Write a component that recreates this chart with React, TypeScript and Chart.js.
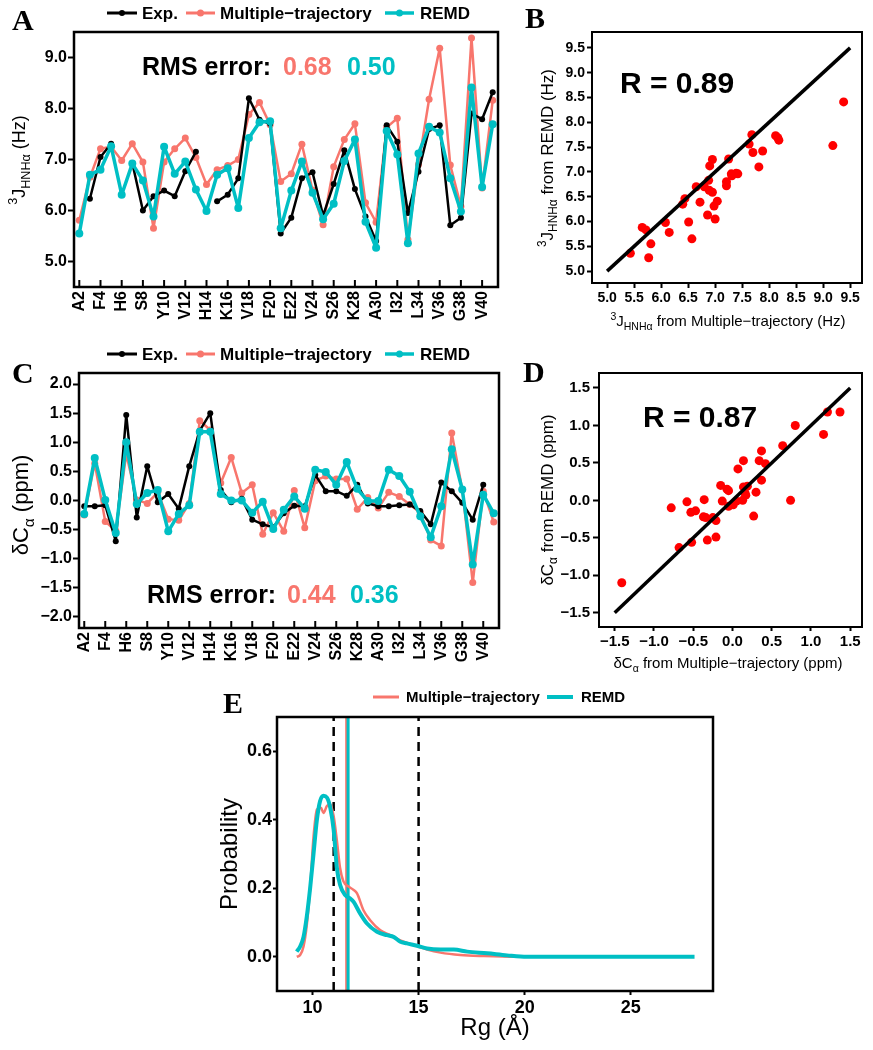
import React, { useEffect, useRef } from "react";
import { Chart, registerables } from "chart.js";

Chart.register(...registerables);

const PAGE_W = 873;
const PAGE_H = 1050;
const SANS = '"Liberation Sans", Arial, Helvetica, sans-serif';
const SERIF = '"Liberation Serif", "Times New Roman", serif';
const RED = "#F8766D";
const CYAN = "#00BFC4";
const BLACK = "#000000";
const SCATTER_RED = "#FF0000";

// ---------------- data ----------------
const residues = [2, 3, 4, 5, 6, 7, 8, 9, 10, 11, 12, 13, 14, 15, 16, 17, 18, 19, 20, 21, 22, 23, 24, 25, 26, 27, 28, 29, 30, 31, 32, 33, 34, 35, 36, 37, 38, 39, 40, 41];
const tickResidues = [2, 4, 6, 8, 10, 12, 14, 16, 18, 20, 22, 24, 26, 28, 30, 32, 34, 36, 38, 40];
const tickResidueLabels = ["A2", "F4", "H6", "S8", "Y10", "V12", "H14", "K16", "V18", "F20", "E22", "V24", "S26", "K28", "A30", "I32", "L34", "V36", "G38", "V40"];

// Panel A: 3J(HN-Ha) couplings (Hz)
const jExp = [null, 6.23, 7.05, 7.31, null, 6.93, 6.0, 6.28, 6.39, 6.28, 6.77, 7.15, null, 6.18, 6.31, 6.63, 8.2, 7.78, 7.7, 5.55, 5.86, 6.63, 6.75, 5.9, 6.52, 7.18, 6.42, 5.88, 5.4, 7.67, 7.35, 5.95, 6.76, 7.6, 7.67, 5.71, 5.86, 7.9, 7.79, 8.32];
const jMulti = [5.81, 6.65, 7.21, 7.25, 6.98, 7.31, 6.95, 5.65, 6.95, 7.21, 7.42, 7.04, 6.51, 6.8, 6.88, 7.0, 7.88, 8.12, 7.68, 6.57, 6.72, 7.3, 6.4, 5.72, 6.86, 7.39, 7.7, 6.15, 5.77, 7.63, 7.81, 5.43, 6.9, 8.18, 9.18, 6.89, 6.08, 9.38, 6.44, 8.16];
const jRemd = [5.55, 6.7, 6.8, 7.26, 6.31, 6.92, 6.59, 5.88, 7.25, 6.72, 6.96, 6.41, 5.99, 6.7, 6.83, 6.05, 7.42, 7.73, 7.75, 5.65, 6.39, 6.96, 6.35, 5.83, 6.13, 6.97, 7.39, 5.78, 5.27, 7.56, 7.1, 5.36, 7.12, 7.64, 7.53, 6.63, 5.98, 8.41, 6.46, 7.69];
const jTicks = [5.0, 6.0, 7.0, 8.0, 9.0];
const jScatterTicks = [5.0, 5.5, 6.0, 6.5, 7.0, 7.5, 8.0, 8.5, 9.0, 9.5];
const jFitX = [5.0, 9.5];
const jFitY = [5.0, 9.5];

// Panel C: secondary C-alpha shifts (ppm)
const cExp = [-0.1, -0.1, -0.08, -0.7, 1.47, -0.29, 0.59, -0.03, 0.11, -0.14, 0.59, 1.2, 1.5, 0.18, -0.03, 0.03, -0.33, -0.41, -0.46, -0.22, -0.09, -0.1, 0.44, 0.16, 0.16, 0.08, 0.27, -0.05, -0.1, -0.1, -0.08, -0.07, -0.18, -0.41, 0.31, 0.16, -0.04, -0.33, 0.27, null];
const cMulti = [-0.25, 0.64, -0.36, -0.52, 0.8, 0.01, -0.05, 0.14, -0.32, -0.34, -0.05, 1.37, 1.21, 0.3, 0.74, 0.13, 0.27, -0.58, -0.21, -0.53, 0.17, -0.47, 0.34, 0.42, 0.37, 0.37, -0.15, 0.05, -0.13, 0.14, 0.07, -0.07, -0.21, -0.68, -0.78, 1.16, 0.19, -1.41, 0.16, -0.37];
const cRemd = [-0.23, 0.73, 0.01, -0.56, 1.0, -0.06, 0.13, 0.18, -0.53, -0.23, -0.08, 1.18, 1.18, 0.11, 0.0, 0.0, -0.21, -0.02, -0.49, -0.16, 0.07, -0.14, 0.53, 0.49, 0.27, 0.66, 0.2, -0.01, -0.01, 0.53, 0.42, 0.15, -0.27, -0.63, -0.1, 0.88, 0.19, -1.1, 0.1, -0.22];
const cTicks = [-2.0, -1.5, -1.0, -0.5, 0.0, 0.5, 1.0, 1.5, 2.0];
const cScatterTicks = [-1.5, -1.0, -0.5, 0.0, 0.5, 1.0, 1.5];
const cFitX = [-1.5, 1.5];
const cFitY = [-1.5, 1.5];

// Panel E: Rg distributions
const rgMultiX = [9.26, 9.42, 9.58, 9.73, 9.89, 10.05, 10.21, 10.4, 10.52, 10.68, 10.84, 11.0, 11.15, 11.3, 11.46, 11.7, 11.94, 12.1, 12.41, 12.73, 13.2, 13.67, 14.14, 14.77, 15.4, 16.03, 16.97, 18.07, 19.6, 21.0];
const rgMultiP = [0.0, 0.005, 0.03, 0.09, 0.2, 0.35, 0.43, 0.435, 0.42, 0.44, 0.445, 0.41, 0.34, 0.26, 0.22, 0.205, 0.195, 0.185, 0.135, 0.106, 0.077, 0.063, 0.048, 0.034, 0.021, 0.012, 0.005, 0.002, 0.0, 0.0];
const rgRemdX = [9.26, 9.42, 9.58, 9.73, 9.89, 10.05, 10.21, 10.36, 10.52, 10.68, 10.84, 11.0, 11.15, 11.3, 11.54, 11.78, 11.94, 12.25, 12.57, 13.04, 13.51, 13.82, 14.14, 14.45, 14.93, 15.4, 16.03, 16.66, 17.29, 18.23, 19.17, 20.1, 22.0, 25.0, 28.0];
const rgRemdP = [0.015, 0.03, 0.058, 0.116, 0.2, 0.3, 0.4, 0.455, 0.47, 0.465, 0.435, 0.37, 0.26, 0.21, 0.18, 0.17, 0.16, 0.126, 0.097, 0.073, 0.063, 0.058, 0.044, 0.039, 0.032, 0.024, 0.021, 0.021, 0.015, 0.01, 0.004, 0.0, 0.0, 0.0, 0.0];
const rgMeanMulti = 11.6;
const rgMeanRemd = 11.68;
const rgDashed = [11, 15];
const rgXTicks = [10, 15, 20, 25];
const rgYTicks = [0.0, 0.2, 0.4, 0.6];

// ---------------- helpers ----------------
type Seg = { t: string; s?: "sup" | "sub" };

function drawRich(
  ctx: CanvasRenderingContext2D,
  segs: Seg[],
  x: number,
  y: number,
  size: number,
  opts: { rotate?: boolean; weight?: string; align?: string; color?: string } = {}
) {
  const rotate = opts.rotate || false;
  const weight = opts.weight || "normal";
  const align = opts.align || "center";
  ctx.save();
  ctx.translate(x, y);
  if (rotate) ctx.rotate(-Math.PI / 2);
  ctx.fillStyle = opts.color || BLACK;
  ctx.textBaseline = "alphabetic";
  ctx.textAlign = "left";
  const parts = segs.map((seg) => {
    const fs = seg.s ? size * 0.7 : size;
    ctx.font = `${weight} ${fs}px ${SANS}`;
    return { seg, fs, w: ctx.measureText(seg.t).width };
  });
  const total = parts.reduce((a, p) => a + p.w, 0);
  let cx = align === "center" ? -total / 2 : align === "right" ? -total : 0;
  for (const p of parts) {
    ctx.font = `${weight} ${p.fs}px ${SANS}`;
    const dy = p.seg.s === "sup" ? -size * 0.42 : p.seg.s === "sub" ? size * 0.25 : 0;
    ctx.fillText(p.seg.t, cx, dy);
    cx += p.w;
  }
  ctx.restore();
}

function drawText(ctx: CanvasRenderingContext2D, text: string, x: number, y: number, font: string, color = BLACK) {
  ctx.save();
  ctx.font = font;
  ctx.fillStyle = color;
  ctx.textAlign = "left";
  ctx.textBaseline = "alphabetic";
  ctx.fillText(text, x, y);
  ctx.restore();
}

function legendItem(
  ctx: CanvasRenderingContext2D,
  x1: number,
  x2: number,
  y: number,
  color: string,
  lw: number,
  dotR: number,
  tx: number,
  text: string,
  fontSize: number
) {
  ctx.save();
  ctx.strokeStyle = color;
  ctx.lineWidth = lw;
  ctx.beginPath();
  ctx.moveTo(x1, y);
  ctx.lineTo(x2, y);
  ctx.stroke();
  if (dotR > 0) {
    ctx.fillStyle = color;
    ctx.beginPath();
    ctx.arc((x1 + x2) / 2, y, dotR, 0, Math.PI * 2);
    ctx.fill();
  }
  ctx.fillStyle = BLACK;
  ctx.font = `bold ${fontSize}px ${SANS}`;
  ctx.textAlign = "left";
  ctx.textBaseline = "middle";
  ctx.fillText(text, tx, y + 1);
  ctx.restore();
}

function frame(chart: any, lw: number) {
  const ctx = chart.ctx;
  const ca = chart.chartArea;
  ctx.save();
  ctx.strokeStyle = BLACK;
  ctx.lineWidth = lw;
  ctx.strokeRect(ca.left, ca.top, ca.right - ca.left, ca.bottom - ca.top);
  ctx.restore();
}

const fmt1 = (v: number) => (v < 0 ? "\u2212" : "") + Math.abs(v).toFixed(1);

function zeroPad(s: any) {
  s.paddingTop = 0;
  s.paddingBottom = 0;
  s.paddingLeft = 0;
  s.paddingRight = 0;
}

function yScale(o: { min: number; max: number; ticks: number[]; font: number; width: number; tickLen: number; pad: number; fmt: (v: number) => string }) {
  return {
    type: "linear",
    position: "left",
    min: o.min,
    max: o.max,
    afterBuildTicks: (s: any) => {
      s.ticks = o.ticks.map((v) => ({ value: v }));
    },
    afterFit: (s: any) => {
      s.width = o.width;
      zeroPad(s);
    },
    grid: { display: true, drawOnChartArea: false, drawTicks: true, tickLength: o.tickLen, tickWidth: 2, tickColor: BLACK },
    border: { display: false },
    ticks: {
      font: { family: SANS, size: o.font, weight: "bold" },
      color: BLACK,
      padding: o.pad,
      autoSkip: false,
      callback: (v: any) => o.fmt(Number(v)),
    },
  };
}

function xScale(o: { min: number; max: number; ticks: number[]; font: number; height: number; tickLen: number; pad: number; fmt: (v: number) => string }) {
  return {
    type: "linear",
    position: "bottom",
    min: o.min,
    max: o.max,
    afterBuildTicks: (s: any) => {
      s.ticks = o.ticks.map((v) => ({ value: v }));
    },
    afterFit: (s: any) => {
      s.height = o.height;
      zeroPad(s);
    },
    grid: { display: true, drawOnChartArea: false, drawTicks: true, tickLength: o.tickLen, tickWidth: 2, tickColor: BLACK },
    border: { display: false },
    ticks: {
      font: { family: SANS, size: o.font, weight: "bold" },
      color: BLACK,
      padding: o.pad,
      autoSkip: false,
      minRotation: 0,
      maxRotation: 0,
      callback: (v: any) => o.fmt(Number(v)),
    },
  };
}

function residueScale() {
  return {
    type: "linear",
    position: "bottom",
    min: 1.5,
    max: 41.5,
    afterBuildTicks: (s: any) => {
      s.ticks = tickResidues.map((v) => ({ value: v }));
    },
    afterFit: (s: any) => {
      s.height = 45;
      zeroPad(s);
    },
    grid: { display: false, drawTicks: false },
    border: { display: false },
    ticks: {
      font: { family: SANS, size: 16, weight: "bold" },
      color: BLACK,
      padding: 4,
      autoSkip: false,
      minRotation: 90,
      maxRotation: 90,
      callback: (v: any) => {
        const i = tickResidues.indexOf(Number(v));
        return i >= 0 ? tickResidueLabels[i] : "";
      },
    },
  };
}

function baseOptions(L: number, T: number, R: number, B: number, xh: number) {
  return {
    responsive: false,
    animation: false,
    devicePixelRatio: 1,
    events: [],
    layout: { padding: { left: 0, top: T, right: PAGE_W - R, bottom: PAGE_H - B - xh } },
    plugins: { legend: { display: false }, tooltip: { enabled: false } },
  };
}

function seriesDs(label: string, ys: (number | null)[], color: string, bw: number, pr: number, order: number) {
  return {
    label,
    data: residues.map((r, i) => ({ x: r, y: ys[i] })),
    borderColor: color,
    backgroundColor: color,
    borderWidth: bw,
    borderJoinStyle: "round",
    borderCapStyle: "round",
    pointRadius: pr,
    pointBackgroundColor: color,
    pointBorderColor: color,
    pointBorderWidth: 0,
    tension: 0,
    spanGaps: false,
    order,
  };
}

function drawInwardTicks(chart: any) {
  const ctx = chart.ctx;
  const ca = chart.chartArea;
  const xs = chart.scales.x;
  ctx.save();
  ctx.strokeStyle = BLACK;
  ctx.lineWidth = 2;
  for (const r of tickResidues) {
    const px = xs.getPixelForValue(r);
    ctx.beginPath();
    ctx.moveTo(px, ca.bottom);
    ctx.lineTo(px, ca.bottom - 7);
    ctx.stroke();
  }
  ctx.restore();
}

function drawSeriesLegend(ctx: CanvasRenderingContext2D, y: number) {
  legendItem(ctx, 107, 137, y, BLACK, 3, 3, 142, "Exp.", 17);
  legendItem(ctx, 186, 215, y, RED, 3, 3.5, 220, "Multiple\u2212trajectory", 17);
  legendItem(ctx, 385, 414, y, CYAN, 3.5, 3.5, 420, "REMD", 17);
}

const jLabel: Seg[] = [{ t: "3", s: "sup" }, { t: "J" }, { t: "HNH\u03b1", s: "sub" }];
const cLabel: Seg[] = [{ t: "\u03b4C" }, { t: "\u03b1", s: "sub" }];

// ---------------- charts ----------------
function makeA(canvas: HTMLCanvasElement) {
  const L = 74, T = 32, R = 498, B = 287;
  return new Chart(canvas, {
    type: "line",
    data: {
      datasets: [
        seriesDs("Exp.", jExp, BLACK, 2.5, 3, 1),
        seriesDs("Multiple\u2212trajectory", jMulti, RED, 2.5, 3.5, 2),
        seriesDs("REMD", jRemd, CYAN, 3.5, 4, 0),
      ],
    },
    options: {
      ...baseOptions(L, T, R, B, 45),
      scales: {
        x: residueScale(),
        y: yScale({ min: 4.5, max: 9.5, ticks: jTicks, font: 16, width: L, tickLen: 6, pad: 1, fmt: fmt1 }),
      },
    } as any,
    plugins: [
      {
        id: "decorA",
        afterDraw(chart: any) {
          const ctx = chart.ctx;
          frame(chart, 2.5);
          drawInwardTicks(chart);
          drawText(ctx, "A", 12, 30, `bold 30px ${SERIF}`);
          drawSeriesLegend(ctx, 13);
          drawText(ctx, "RMS error:", 142, 75, `bold 25px ${SANS}`);
          drawText(ctx, "0.68", 283, 75, `bold 25px ${SANS}`, RED);
          drawText(ctx, "0.50", 347, 75, `bold 25px ${SANS}`, CYAN);
          drawRich(ctx, [...jLabel, { t: " (Hz)" }], 25, 160, 18, { rotate: true });
        },
      },
    ],
  } as any);
}

function makeC(canvas: HTMLCanvasElement) {
  const L = 79, T = 373, R = 499, B = 628;
  return new Chart(canvas, {
    type: "line",
    data: {
      datasets: [
        seriesDs("Exp.", cExp, BLACK, 2.5, 3, 1),
        seriesDs("Multiple\u2212trajectory", cMulti, RED, 2.5, 3.5, 2),
        seriesDs("REMD", cRemd, CYAN, 3.5, 4, 0),
      ],
    },
    options: {
      ...baseOptions(L, T, R, B, 45),
      scales: {
        x: residueScale(),
        y: yScale({ min: -2.19, max: 2.19, ticks: cTicks, font: 16, width: L, tickLen: 6, pad: 1, fmt: fmt1 }),
      },
    } as any,
    plugins: [
      {
        id: "decorC",
        afterDraw(chart: any) {
          const ctx = chart.ctx;
          frame(chart, 2.5);
          drawInwardTicks(chart);
          drawText(ctx, "C", 12, 383, `bold 30px ${SERIF}`);
          drawSeriesLegend(ctx, 354);
          drawText(ctx, "RMS error:", 147, 603, `bold 25px ${SANS}`);
          drawText(ctx, "0.44", 287, 603, `bold 25px ${SANS}`, RED);
          drawText(ctx, "0.36", 350, 603, `bold 25px ${SANS}`, CYAN);
          drawRich(ctx, [...cLabel, { t: " (ppm)" }], 28, 505, 22, { rotate: true });
        },
      },
    ],
  } as any);
}

function makeScatter(
  canvas: HTMLCanvasElement,
  geom: { L: number; T: number; R: number; B: number },
  xs: number[],
  ys: number[],
  fitX: number[],
  fitY: number[],
  axis: { xmin: number; xmax: number; ymin: number; ymax: number; ticks: number[]; font: number; yTick: number; yPad: number; xTick: number; xPad: number },
  deco: (ctx: CanvasRenderingContext2D) => void
) {
  const { L, T, R, B } = geom;
  return new Chart(canvas, {
    type: "scatter",
    data: {
      datasets: [
        {
          data: fitX.map((v, i) => ({ x: v, y: fitY[i] })),
          showLine: true,
          borderColor: BLACK,
          borderWidth: 3.5,
          pointRadius: 0,
          order: 0,
        },
        {
          data: xs.map((v, i) => ({ x: v, y: ys[i] })),
          backgroundColor: SCATTER_RED,
          borderColor: SCATTER_RED,
          pointRadius: 4.5,
          pointBorderWidth: 0,
          order: 1,
        },
      ],
    },
    options: {
      ...baseOptions(L, T, R, B, 40),
      scales: {
        x: xScale({ min: axis.xmin, max: axis.xmax, ticks: axis.ticks, font: axis.font, height: 40, tickLen: axis.xTick, pad: axis.xPad, fmt: fmt1 }),
        y: yScale({ min: axis.ymin, max: axis.ymax, ticks: axis.ticks, font: axis.font, width: L, tickLen: axis.yTick, pad: axis.yPad, fmt: fmt1 }),
      },
    } as any,
    plugins: [
      {
        id: "decorScatter",
        afterDraw(chart: any) {
          frame(chart, 2);
          deco(chart.ctx);
        },
      },
    ],
  } as any);
}

function makeE(canvas: HTMLCanvasElement) {
  const L = 277, T = 717, R = 713, B = 991;
  const vline = (x: number, color: string, width: number, dash: number[], order: number) => ({
    data: [
      { x, y: -0.1 },
      { x, y: 0.7 },
    ],
    showLine: true,
    borderColor: color,
    borderWidth: width,
    borderDash: dash,
    pointRadius: 0,
    order,
  });
  return new Chart(canvas, {
    type: "scatter",
    data: {
      datasets: [
        {
          data: rgRemdX.map((v, i) => ({ x: v, y: rgRemdP[i] })),
          showLine: true,
          borderColor: CYAN,
          borderWidth: 4,
          borderJoinStyle: "round",
          pointRadius: 0,
          cubicInterpolationMode: "monotone",
          order: 0,
        },
        {
          data: rgMultiX.map((v, i) => ({ x: v, y: rgMultiP[i] })),
          showLine: true,
          borderColor: RED,
          borderWidth: 2.5,
          borderJoinStyle: "round",
          pointRadius: 0,
          cubicInterpolationMode: "monotone",
          order: 1,
        },
        vline(rgMeanRemd, CYAN, 3, [], 2),
        vline(rgMeanMulti, RED, 2.5, [], 3),
        vline(rgDashed[0], BLACK, 2.5, [9, 6], 4),
        vline(rgDashed[1], BLACK, 2.5, [9, 6], 5),
      ],
    },
    options: {
      ...baseOptions(L, T, R, B, 40),
      scales: {
        x: xScale({ min: 8.33, max: 28.87, ticks: rgXTicks, font: 18, height: 40, tickLen: 4, pad: 2, fmt: (v) => String(v) }),
        y: yScale({ min: -0.1, max: 0.7, ticks: rgYTicks, font: 18, width: L, tickLen: 4, pad: 1, fmt: (v) => v.toFixed(1) }),
      },
    } as any,
    plugins: [
      {
        id: "decorE",
        afterDraw(chart: any) {
          const ctx = chart.ctx;
          frame(chart, 2.5);
          drawText(ctx, "E", 223, 713, `bold 30px ${SERIF}`);
          legendItem(ctx, 373, 399, 697, RED, 3, 0, 406, "Multiple\u2212trajectory", 15);
          legendItem(ctx, 547, 573, 697, CYAN, 4, 0, 581, "REMD", 15);
          drawRich(ctx, [{ t: "Probability" }], 237, 854, 24, { rotate: true });
          drawRich(ctx, [{ t: "Rg (\u00c5)" }], 495, 1035, 24);
        },
      },
    ],
  } as any);
}

export default function App() {
  const aRef = useRef<HTMLCanvasElement>(null);
  const bRef = useRef<HTMLCanvasElement>(null);
  const cRef = useRef<HTMLCanvasElement>(null);
  const dRef = useRef<HTMLCanvasElement>(null);
  const eRef = useRef<HTMLCanvasElement>(null);

  useEffect(() => {
    const charts: Chart[] = [];
    charts.push(makeA(aRef.current!));
    charts.push(
      makeScatter(
        bRef.current!,
        { L: 592, T: 32, R: 862, B: 283 },
        jMulti,
        jRemd,
        jFitX,
        jFitY,
        { xmin: 4.72, xmax: 9.72, ymin: 4.76, ymax: 9.82, ticks: jScatterTicks, font: 14, yTick: 5, yPad: 2, xTick: 5, xPad: 2 },
        (ctx) => {
          drawText(ctx, "B", 525, 28, `bold 30px ${SERIF}`);
          drawText(ctx, "R = 0.89", 620, 93, `bold 30px ${SANS}`);
          drawRich(ctx, [...jLabel, { t: " from REMD (Hz)" }], 553, 158, 17, { rotate: true });
          drawRich(ctx, [...jLabel, { t: " from Multiple\u2212trajectory (Hz)" }], 728, 326, 15);
        }
      )
    );
    charts.push(makeC(cRef.current!));
    charts.push(
      makeScatter(
        dRef.current!,
        { L: 599, T: 373, R: 862, B: 627 },
        cMulti,
        cRemd,
        cFitX,
        cFitY,
        { xmin: -1.7, xmax: 1.65, ymin: -1.69, ymax: 1.7, ticks: cScatterTicks, font: 15, yTick: 6, yPad: 3, xTick: 4, xPad: 2 },
        (ctx) => {
          drawText(ctx, "D", 523, 382, `bold 30px ${SERIF}`);
          drawText(ctx, "R = 0.87", 643, 427, `bold 30px ${SANS}`);
          drawRich(ctx, [...cLabel, { t: " from REMD (ppm)" }], 553, 500, 17, { rotate: true });
          drawRich(ctx, [...cLabel, { t: " from Multiple\u2212trajectory (ppm)" }], 728, 668, 15);
        }
      )
    );
    charts.push(makeE(eRef.current!));
    return () => charts.forEach((c) => c.destroy());
  }, []);

  const cs: React.CSSProperties = { position: "absolute", left: 0, top: 0, width: PAGE_W, height: PAGE_H };
  return (
    <div style={{ position: "absolute", left: 0, top: 0, width: PAGE_W, height: PAGE_H, background: "#ffffff", overflow: "hidden" }}>
      <canvas ref={aRef} width={PAGE_W} height={PAGE_H} style={cs} />
      <canvas ref={bRef} width={PAGE_W} height={PAGE_H} style={cs} />
      <canvas ref={cRef} width={PAGE_W} height={PAGE_H} style={cs} />
      <canvas ref={dRef} width={PAGE_W} height={PAGE_H} style={cs} />
      <canvas ref={eRef} width={PAGE_W} height={PAGE_H} style={cs} />
    </div>
  );
}
